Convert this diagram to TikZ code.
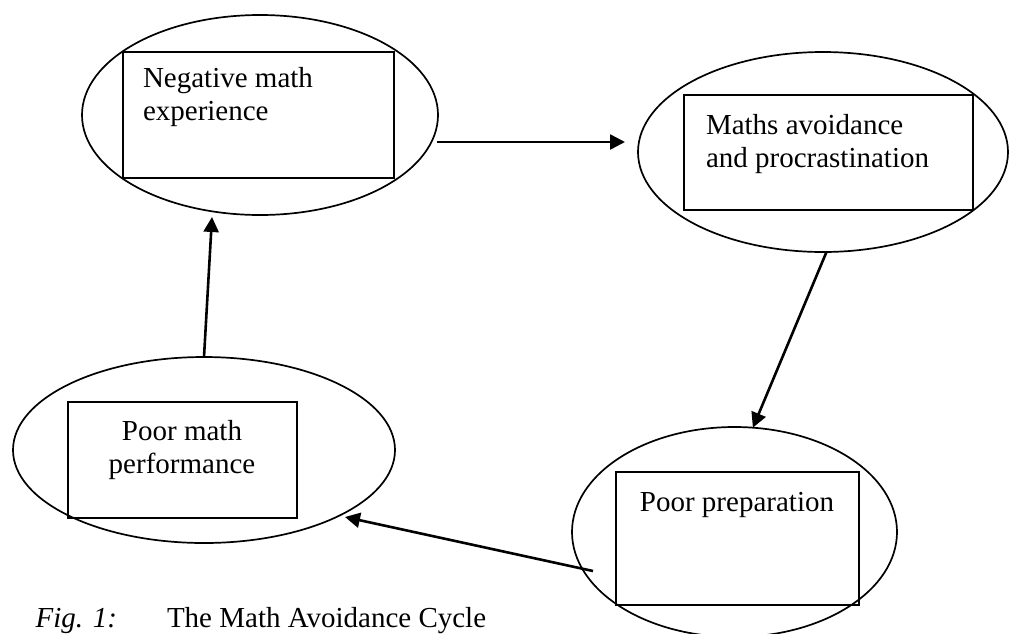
\documentclass[tikz,border=0pt]{standalone}
\usepackage{fontspec}
\setmainfont{Liberation Serif}
\usetikzlibrary{shapes.geometric,arrows.meta}
\begin{document}
\begin{tikzpicture}[x=1pt,y=-1pt,
  oval/.style={draw, ellipse, inner sep=0pt, outer sep=0pt, line width=1.7pt},
  box/.style={draw, rectangle, inner sep=0pt, outer sep=0pt, line width=1.9pt},
  txt/.style={inner sep=0pt, outer sep=0pt, font=\fontsize{29pt}{33pt}\selectfont},
  arr/.style={line width=2.6pt, -{Triangle[length=15pt,width=15pt]}}]
\useasboundingbox (0,0) rectangle (1010,633);
\fill[white] (0,0) rectangle (1010,633);

% ellipses
\node[oval, minimum width=356pt, minimum height=200pt] (e1) at (260,115) {};
\node[oval, minimum width=370pt, minimum height=200pt] (e2) at (823,152) {};
\node[oval, minimum width=325pt, minimum height=210pt] (e3) at (734.5,532) {};
\node[oval, minimum width=382pt, minimum height=186pt] (e4) at (204,450) {};

% boxes
\node[box, minimum width=271pt, minimum height=126pt] (b1) at (258.5,115) {};
\node[box, minimum width=289pt, minimum height=115pt] (b2) at (828.5,152.5) {};
\node[box, minimum width=243pt, minimum height=133pt] (b3) at (737.5,538.5) {};
\node[box, minimum width=229pt, minimum height=116pt] (b4) at (182.5,460) {};

% texts (base anchor = baseline of the last line)
\node[txt, anchor=base west, align=left] (t1) at (143,120) {Negative math\\experience};
\node[txt, anchor=base west, align=left] (t2) at (706,167) {Maths avoidance\\and procrastination};
\node[txt, anchor=base] (t3) at (737,511) {Poor preparation};
\node[txt, anchor=base, align=center] (t4) at (182,473) {Poor math\\performance};

% connector end points
\coordinate (a1s) at (437,142);
\coordinate (a1e) at (625,142);
\coordinate (a3s) at (593,571);
\coordinate (a3e) at (345,517);
\coordinate (a4e) at (212,217);

% connectors
\draw[arr] (a1s) -- (a1e);
\draw[arr] (e2.-88) -- (e3.80);
\draw[arr] (a3s) -- (a3e);
\draw[arr] (e4.north) -- (a4e);

% caption
\node[txt, anchor=base east, font=\fontsize{29pt}{33pt}\selectfont\itshape] (fig) at (117,627) {Fig. 1:};
\node[txt, anchor=base west] (cap) at (167,627) {The Math Avoidance Cycle};
\end{tikzpicture}
\end{document}
